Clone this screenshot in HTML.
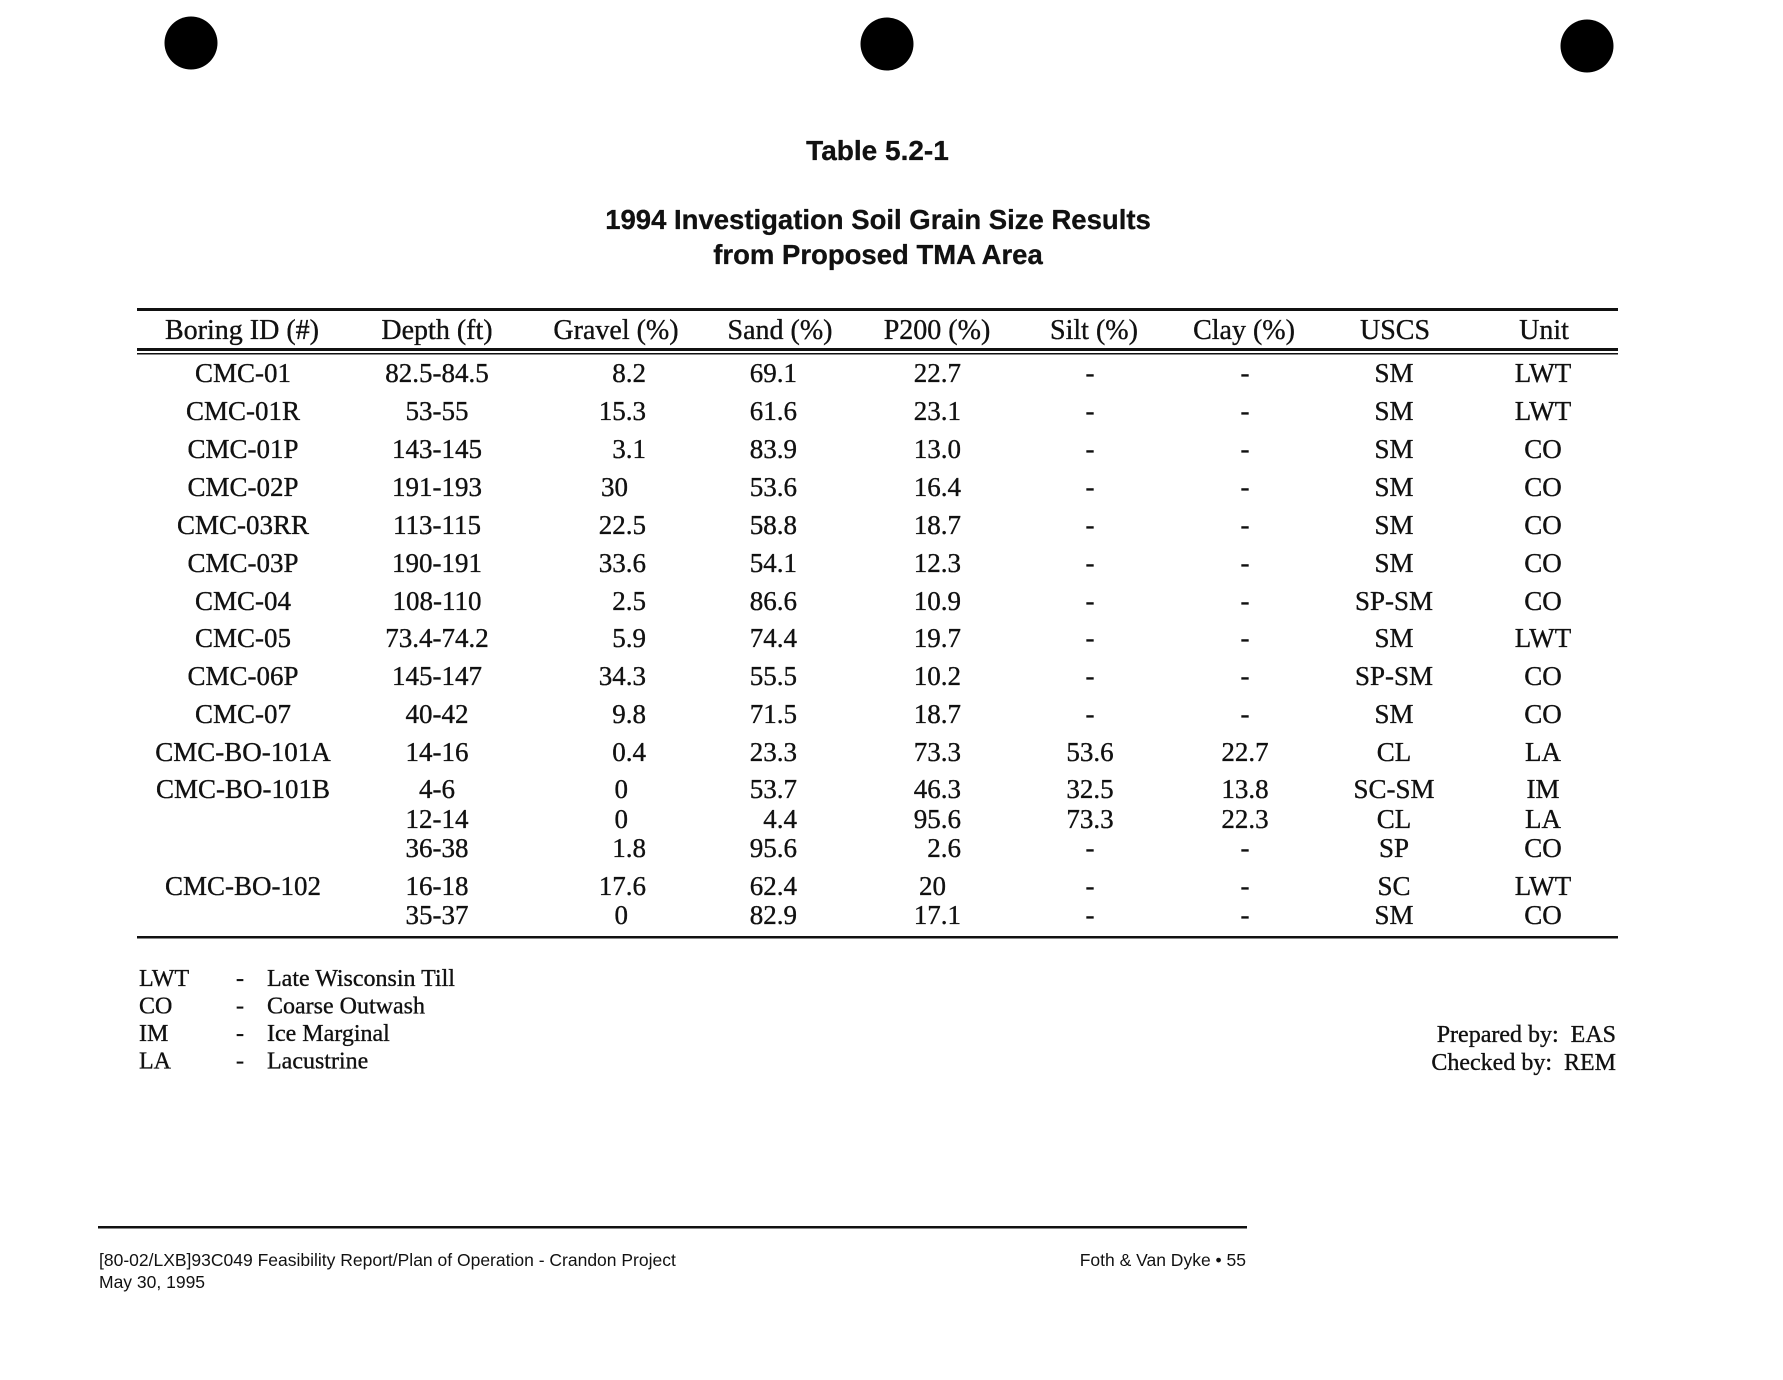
<!DOCTYPE html>
<html>
<head>
<meta charset="utf-8">
<style>
  html,body{margin:0;padding:0;background:#fff;}
  svg{display:block;}
  .s{font-family:"Liberation Serif","DejaVu Serif",serif;fill:#111;stroke:#111;stroke-width:0.35;}
  .h{font-size:28px;}
  .d{font-size:27px;}
  .lg{font-size:24px;}
  .t{font-family:"Liberation Sans","DejaVu Sans",sans-serif;font-weight:bold;fill:#111;stroke:#111;stroke-width:0.3;}
  .f{font-family:"Liberation Sans","DejaVu Sans",sans-serif;font-size:17.5px;fill:#111;}
</style>
</head>
<body>
<svg width="1783" height="1380" viewBox="0 0 1783 1380" xmlns="http://www.w3.org/2000/svg">
  <rect width="1783" height="1380" fill="#fff"/>
  <!-- punch holes -->
  <circle cx="191" cy="43" r="26.5" fill="#000"/>
  <circle cx="887" cy="44" r="26.5" fill="#000"/>
  <circle cx="1587" cy="46" r="26.5" fill="#000"/>

  <!-- titles -->
  <text class="t" x="877.5" y="160" font-size="28" text-anchor="middle">Table 5.2-1</text>
  <text class="t" x="878" y="229" font-size="27.5" text-anchor="middle">1994 Investigation Soil Grain Size Results</text>
  <text class="t" x="878" y="264" font-size="27.5" text-anchor="middle">from Proposed TMA Area</text>

  <!-- table lines -->
  <rect x="137" y="308" width="1481" height="3" fill="#111"/>
  <rect x="137" y="348" width="1481" height="3" fill="#111"/>
  <rect x="137" y="353" width="1481" height="1.5" fill="#111"/>
  <rect x="137" y="936" width="1481" height="2.5" fill="#111"/>

  <!-- header -->
  <g class="s h" text-anchor="middle">
    <text x="242" y="339">Boring ID (#)</text>
    <text x="437" y="339">Depth (ft)</text>
    <text x="616" y="339">Gravel (%)</text>
    <text x="780" y="339">Sand (%)</text>
    <text x="937" y="339">P200 (%)</text>
    <text x="1094" y="339">Silt (%)</text>
    <text x="1244" y="339">Clay (%)</text>
    <text x="1395" y="339">USCS</text>
    <text x="1544" y="339">Unit</text>
  </g>

  <!-- Boring ID -->
  <g class="s d" text-anchor="middle">
    <text x="243" y="382">CMC-01</text>
    <text x="243" y="420">CMC-01R</text>
    <text x="243" y="458">CMC-01P</text>
    <text x="243" y="496">CMC-02P</text>
    <text x="243" y="534">CMC-03RR</text>
    <text x="243" y="572">CMC-03P</text>
    <text x="243" y="610">CMC-04</text>
    <text x="243" y="647">CMC-05</text>
    <text x="243" y="685">CMC-06P</text>
    <text x="243" y="723">CMC-07</text>
    <text x="243" y="761">CMC-BO-101A</text>
    <text x="243" y="798">CMC-BO-101B</text>
    <text x="243" y="895">CMC-BO-102</text>
  </g>

  <!-- Depth -->
  <g class="s d" text-anchor="middle">
    <text x="437" y="382">82.5-84.5</text>
    <text x="437" y="420">53-55</text>
    <text x="437" y="458">143-145</text>
    <text x="437" y="496">191-193</text>
    <text x="437" y="534">113-115</text>
    <text x="437" y="572">190-191</text>
    <text x="437" y="610">108-110</text>
    <text x="437" y="647">73.4-74.2</text>
    <text x="437" y="685">145-147</text>
    <text x="437" y="723">40-42</text>
    <text x="437" y="761">14-16</text>
    <text x="437" y="798">4-6</text>
    <text x="437" y="828">12-14</text>
    <text x="437" y="857">36-38</text>
    <text x="437" y="895">16-18</text>
    <text x="437" y="924">35-37</text>
  </g>

  <!-- Gravel -->
  <g class="s d" text-anchor="end">
    <text x="646" y="382">8.2</text>
    <text x="646" y="420">15.3</text>
    <text x="646" y="458">3.1</text>
    <text x="628" y="496">30</text>
    <text x="646" y="534">22.5</text>
    <text x="646" y="572">33.6</text>
    <text x="646" y="610">2.5</text>
    <text x="646" y="647">5.9</text>
    <text x="646" y="685">34.3</text>
    <text x="646" y="723">9.8</text>
    <text x="646" y="761">0.4</text>
    <text x="628" y="798">0</text>
    <text x="628" y="828">0</text>
    <text x="646" y="857">1.8</text>
    <text x="646" y="895">17.6</text>
    <text x="628" y="924">0</text>
  </g>

  <!-- Sand -->
  <g class="s d" text-anchor="end">
    <text x="797" y="382">69.1</text>
    <text x="797" y="420">61.6</text>
    <text x="797" y="458">83.9</text>
    <text x="797" y="496">53.6</text>
    <text x="797" y="534">58.8</text>
    <text x="797" y="572">54.1</text>
    <text x="797" y="610">86.6</text>
    <text x="797" y="647">74.4</text>
    <text x="797" y="685">55.5</text>
    <text x="797" y="723">71.5</text>
    <text x="797" y="761">23.3</text>
    <text x="797" y="798">53.7</text>
    <text x="797" y="828">4.4</text>
    <text x="797" y="857">95.6</text>
    <text x="797" y="895">62.4</text>
    <text x="797" y="924">82.9</text>
  </g>

  <!-- P200 -->
  <g class="s d" text-anchor="end">
    <text x="961" y="382">22.7</text>
    <text x="961" y="420">23.1</text>
    <text x="961" y="458">13.0</text>
    <text x="961" y="496">16.4</text>
    <text x="961" y="534">18.7</text>
    <text x="961" y="572">12.3</text>
    <text x="961" y="610">10.9</text>
    <text x="961" y="647">19.7</text>
    <text x="961" y="685">10.2</text>
    <text x="961" y="723">18.7</text>
    <text x="961" y="761">73.3</text>
    <text x="961" y="798">46.3</text>
    <text x="961" y="828">95.6</text>
    <text x="961" y="857">2.6</text>
    <text x="919" y="895" text-anchor="start">20</text>
    <text x="961" y="924">17.1</text>
  </g>

  <!-- Silt -->
  <g class="s d" text-anchor="middle">
    <text x="1090" y="382">-</text>
    <text x="1090" y="420">-</text>
    <text x="1090" y="458">-</text>
    <text x="1090" y="496">-</text>
    <text x="1090" y="534">-</text>
    <text x="1090" y="572">-</text>
    <text x="1090" y="610">-</text>
    <text x="1090" y="647">-</text>
    <text x="1090" y="685">-</text>
    <text x="1090" y="723">-</text>
    <text x="1090" y="761">53.6</text>
    <text x="1090" y="798">32.5</text>
    <text x="1090" y="828">73.3</text>
    <text x="1090" y="857">-</text>
    <text x="1090" y="895">-</text>
    <text x="1090" y="924">-</text>
  </g>

  <!-- Clay -->
  <g class="s d" text-anchor="middle">
    <text x="1245" y="382">-</text>
    <text x="1245" y="420">-</text>
    <text x="1245" y="458">-</text>
    <text x="1245" y="496">-</text>
    <text x="1245" y="534">-</text>
    <text x="1245" y="572">-</text>
    <text x="1245" y="610">-</text>
    <text x="1245" y="647">-</text>
    <text x="1245" y="685">-</text>
    <text x="1245" y="723">-</text>
    <text x="1245" y="761">22.7</text>
    <text x="1245" y="798">13.8</text>
    <text x="1245" y="828">22.3</text>
    <text x="1245" y="857">-</text>
    <text x="1245" y="895">-</text>
    <text x="1245" y="924">-</text>
  </g>

  <!-- USCS -->
  <g class="s d" text-anchor="middle">
    <text x="1394" y="382">SM</text>
    <text x="1394" y="420">SM</text>
    <text x="1394" y="458">SM</text>
    <text x="1394" y="496">SM</text>
    <text x="1394" y="534">SM</text>
    <text x="1394" y="572">SM</text>
    <text x="1394" y="610">SP-SM</text>
    <text x="1394" y="647">SM</text>
    <text x="1394" y="685">SP-SM</text>
    <text x="1394" y="723">SM</text>
    <text x="1394" y="761">CL</text>
    <text x="1394" y="798">SC-SM</text>
    <text x="1394" y="828">CL</text>
    <text x="1394" y="857">SP</text>
    <text x="1394" y="895">SC</text>
    <text x="1394" y="924">SM</text>
  </g>

  <!-- Unit -->
  <g class="s d" text-anchor="middle">
    <text x="1543" y="382">LWT</text>
    <text x="1543" y="420">LWT</text>
    <text x="1543" y="458">CO</text>
    <text x="1543" y="496">CO</text>
    <text x="1543" y="534">CO</text>
    <text x="1543" y="572">CO</text>
    <text x="1543" y="610">CO</text>
    <text x="1543" y="647">LWT</text>
    <text x="1543" y="685">CO</text>
    <text x="1543" y="723">CO</text>
    <text x="1543" y="761">LA</text>
    <text x="1543" y="798">IM</text>
    <text x="1543" y="828">LA</text>
    <text x="1543" y="857">CO</text>
    <text x="1543" y="895">LWT</text>
    <text x="1543" y="924">CO</text>
  </g>

  <!-- legend -->
  <g class="s lg">
    <text x="139" y="986">LWT</text>
    <text x="139" y="1013.5">CO</text>
    <text x="139" y="1041">IM</text>
    <text x="139" y="1068.5">LA</text>
    <text x="240" y="986" text-anchor="middle">-</text>
    <text x="240" y="1013.5" text-anchor="middle">-</text>
    <text x="240" y="1041" text-anchor="middle">-</text>
    <text x="240" y="1068.5" text-anchor="middle">-</text>
    <text x="267" y="986">Late Wisconsin Till</text>
    <text x="267" y="1013.5">Coarse Outwash</text>
    <text x="267" y="1041">Ice Marginal</text>
    <text x="267" y="1068.5">Lacustrine</text>
  </g>

  <g class="s lg" text-anchor="end">
    <text x="1616" y="1042" xml:space="preserve">Prepared by:  EAS</text>
    <text x="1616" y="1070" xml:space="preserve">Checked by:  REM</text>
  </g>

  <!-- footer -->
  <rect x="98" y="1226" width="1149" height="2.5" fill="#111"/>
  <text class="f" x="99" y="1266">[80-02/LXB]93C049 Feasibility Report/Plan of Operation - Crandon Project</text>
  <text class="f" x="99" y="1288">May 30, 1995</text>
  <text class="f" x="1246" y="1266" text-anchor="end">Foth &amp; Van Dyke • 55</text>
</svg>
</body>
</html>
